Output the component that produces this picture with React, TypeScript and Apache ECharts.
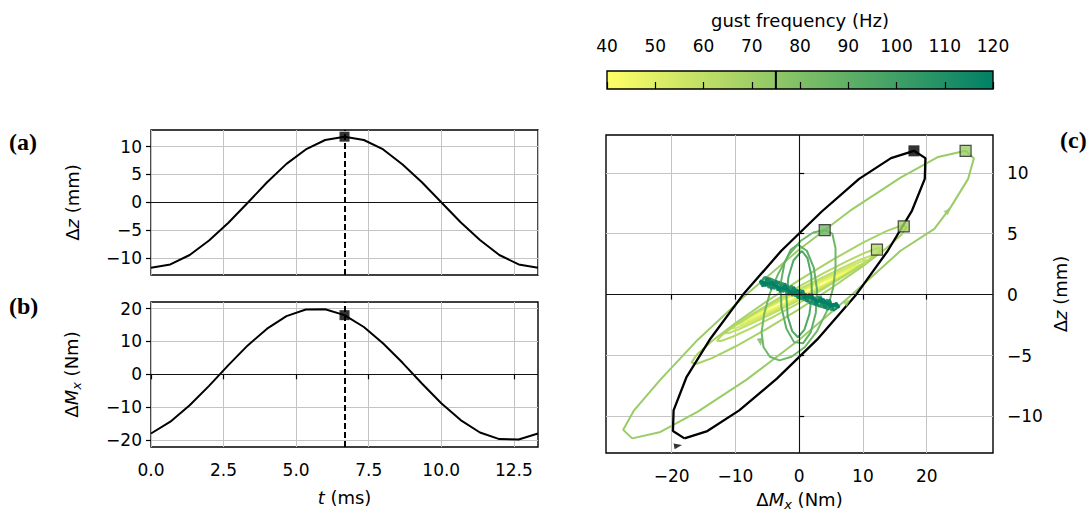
import React, { useEffect, useRef } from 'react';
import * as echarts from 'echarts';

// ---------- time series (panels a, b) ----------
const tMs = [0, 0.667, 1.333, 2.0, 2.667, 3.333, 4.0, 4.667, 5.333, 6.0, 6.667, 7.333, 8.0, 8.667, 9.333, 10.0, 10.667, 11.333, 12.0, 12.667, 13.333];
const dz = [-11.8, -11.2, -9.5, -6.9, -3.7, -0.1, 3.6, 6.9, 9.5, 11.2, 11.8, 11.2, 9.5, 6.8, 3.6, 0.0, -3.6, -6.8, -9.5, -11.2, -11.8];
const dMx = [-18.0, -14.4, -9.4, -3.5, 2.8, 8.8, 13.9, 17.7, 19.7, 19.8, 18.0, 14.4, 9.4, 3.5, -2.8, -8.8, -13.9, -17.7, -19.7, -19.8, -18.0];
const markIndex = 10; // t = T/2
const highlightFreq = 75;

// ---------- tick values ----------
const tTicks = [0, 2.5, 5, 7.5, 10, 12.5];
const dzTicks = [-10, -5, 0, 5, 10];
const mxTicks = [-20, -10, 0, 10, 20];
const cbTicks = [40, 50, 60, 70, 80, 90, 100, 110, 120];

// ---------- phase loops (panel c): [ΔMx, Δz] ----------
const loop40 = [[7.8, 1.90], [7.42, 1.84], [6.31, 1.61], [4.58, 1.22], [2.41, 0.71], [0, 0.13], [-2.41, -0.46], [-4.58, -0.99], [-6.31, -1.43], [-7.42, -1.75], [-7.8, -1.90], [-7.42, -1.84], [-6.31, -1.61], [-4.58, -1.22], [-2.41, -0.71], [0, -0.13], [2.41, 0.46], [4.58, 0.99], [6.31, 1.43], [7.42, 1.75], [7.8, 1.90]];
const loop45 = [[8.6, 2.14], [8.18, 2.09], [6.96, 1.84], [5.06, 1.41], [2.66, 0.84], [0, 0.19], [-2.66, -0.48], [-5.06, -1.09], [-6.96, -1.60], [-8.18, -1.96], [-8.6, -2.14], [-8.18, -2.09], [-6.96, -1.84], [-5.06, -1.41], [-2.66, -0.84], [0, -0.19], [2.66, 0.48], [5.06, 1.09], [6.96, 1.60], [8.18, 1.96], [8.6, 2.14]];
const loop50 = [[9.5, 2.44], [9.04, 2.40], [7.69, 2.12], [5.58, 1.64], [2.94, 1.00], [0, 0.26], [-2.94, -0.51], [-5.58, -1.23], [-7.69, -1.81], [-9.04, -2.24], [-9.5, -2.44], [-9.04, -2.40], [-7.69, -2.12], [-5.58, -1.64], [-2.94, -1.00], [0, -0.26], [2.94, 0.51], [5.58, 1.23], [7.69, 1.81], [9.04, 2.24], [9.5, 2.44]];
const loop55 = [[10.5, 2.78], [9.99, 2.75], [8.49, 2.45], [6.17, 1.91], [3.24, 1.18], [0, 0.34], [-3.24, -0.51], [-6.17, -1.32], [-8.49, -2.03], [-9.99, -2.52], [-10.5, -2.78], [-9.99, -2.75], [-8.49, -2.45], [-6.17, -1.91], [-3.24, -1.18], [0, -0.34], [3.24, 0.51], [6.17, 1.32], [8.49, 2.03], [9.99, 2.52], [10.5, 2.78]];
const loop60 = [[11.6, 3.17], [11.03, 3.15], [9.38, 2.83], [6.82, 2.22], [3.58, 1.40], [0, 0.45], [-3.58, -0.52], [-6.82, -1.46], [-9.38, -2.30], [-11.03, -2.88], [-11.6, -3.17], [-11.03, -3.15], [-9.38, -2.83], [-6.82, -2.22], [-3.58, -1.40], [0, -0.45], [3.58, 0.52], [6.82, 1.46], [9.38, 2.30], [11.03, 2.88], [11.6, 3.17]];
const loop64 = [[12.9, 3.79], [12.27, 3.81], [10.44, 3.46], [7.58, 2.77], [3.99, 1.81], [0, 0.67], [-3.99, -0.53], [-7.58, -1.69], [-10.44, -2.68], [-12.27, -3.40], [-12.9, -3.79], [-12.27, -3.81], [-10.44, -3.46], [-7.58, -2.77], [-3.99, -1.81], [0, -0.67], [3.99, 0.53], [7.58, 1.69], [10.44, 2.68], [12.27, 3.40], [12.9, 3.79]];
const loop68 = [[16.9, 5.58], [16.07, 5.67], [13.67, 5.21], [9.93, 4.24], [5.22, 2.85], [0, 1.19], [-5.22, -0.60], [-9.93, -2.32], [-13.67, -3.81], [-16.07, -4.94], [-16.9, -5.58], [-16.07, -5.67], [-13.67, -5.21], [-9.93, -4.24], [-5.22, -2.85], [0, -1.19], [5.22, 0.60], [9.93, 2.32], [13.67, 3.81], [16.07, 4.94], [16.9, 5.58]];
const loop72 = [[26.1, 11.8], [27.4, 11.2], [26.5, 9.5], [23.8, 7.2], [21.2, 5.4], [15.9, 3.6], [8.3, 0.0], [0.0, -3.7], [-8.3, -7.0], [-15.9, -9.6], [-21.9, -11.3], [-26.2, -11.8], [-27.6, -11.1], [-25.9, -9.5], [-21.8, -7.0], [-15.9, -3.7], [-8.3, 0.0], [0.0, 3.7], [8.3, 7.0], [15.9, 9.6], [21.8, 11.3], [26.1, 11.8]];
const loop85 = [[4.0, 5.3], [5.2, 5.0], [5.7, 3.8], [5.7, 2.2], [5.3, 0.5], [4.3, -1.4], [2.8, -3.0], [0.9, -4.3], [-1.2, -5.1], [-3.1, -5.4], [-4.6, -5.1], [-5.6, -4.3], [-5.9, -3.1], [-5.5, -1.6], [-4.6, 0.1], [-3.3, 1.7], [-1.7, 3.2], [0.2, 4.4], [2.2, 5.1], [4.0, 5.3]];
const loop90 = [[-0.2, 4.1], [1.2, 3.6], [2.3, 2.2], [2.8, 0.4], [2.6, -1.5], [1.8, -3.1], [0.6, -4.0], [-0.8, -3.9], [-2.0, -2.8], [-2.8, -1.0], [-2.9, 0.9], [-2.3, 2.6], [-1.3, 3.7], [-0.2, 4.1]];
const loop95 = [[0.4, 3.6], [1.3, 3.0], [1.9, 1.6], [2.0, 0.0], [1.6, -1.6], [0.8, -2.9], [-0.2, -3.5], [-1.1, -3.0], [-1.8, -1.8], [-2.0, -0.2], [-1.7, 1.4], [-0.9, 2.8], [0.4, 3.6]];
const loop100 = [[-5.4, 1.45], [-4.2, 1.25], [-3.0, 0.95], [-1.8, 0.65], [-0.6, 0.25], [0.6, -0.05], [1.8, -0.35], [3.0, -0.6], [4.2, -0.8], [5.6, -0.95], [4.4, -1.15], [3.2, -0.95], [2.0, -0.75], [0.8, -0.45], [-0.4, -0.15], [-1.6, 0.15], [-2.8, 0.45], [-4.0, 0.8], [-5.4, 1.45]];
const loop105 = [[-6.0, 1.06], [-5.4, 1.46], [-4.8, 0.56], [-4.0, 1.22], [-3.4, 0.32], [-2.6, 0.99], [-2.0, 0.09], [-1.2, 0.75], [-0.6, -0.15], [0.2, 0.42], [0.8, -0.48], [1.6, 0.08], [2.2, -0.82], [3.0, -0.15], [3.6, -1.05], [4.4, -0.39], [5.0, -1.29], [5.8, -0.67], [6.3, -1.01]];
const loop110 = [[-6.2, 1.12], [-5.3, 0.70], [-4.6, 1.35], [-3.9, 0.45], [-3.2, 1.10], [-2.5, 0.20], [-1.8, 0.80], [-1.1, -0.10], [-0.4, 0.45], [0.3, -0.40], [1.0, 0.10], [1.7, -0.75], [2.4, -0.20], [3.1, -1.00], [3.8, -0.50], [4.5, -1.25], [5.3, -0.75], [6.3, -1.05]];
const loop115 = [[-6.2, 1.09], [-5.7, 0.66], [-5.0, 1.39], [-4.4, 0.44], [-3.6, 1.15], [-3.0, 0.20], [-2.2, 0.92], [-1.6, -0.03], [-0.8, 0.63], [-0.2, -0.32], [0.6, 0.35], [1.2, -0.55], [2.0, 0.06], [2.6, -0.89], [3.4, -0.17], [4.0, -1.12], [4.8, -0.41], [5.4, -1.31], [6.2, -0.99]];
const loop120 = [[-6.2, 1.15], [-5.2, 0.75], [-4.2, 1.05], [-3.2, 0.40], [-2.2, 0.70], [-1.2, 0.05], [-0.2, 0.35], [0.8, -0.30], [1.8, 0.00], [2.8, -0.65], [3.8, -0.35], [4.8, -1.00], [5.8, -0.70], [6.3, -1.05], [3.2, -0.55], [0.0, 0.05], [-3.2, 0.60], [-6.2, 1.15]];

const loopFreqs = [40, 45, 50, 55, 60, 64, 68, 72, 85, 90, 95, 100, 105, 110, 115, 120];
const loopData = [loop40, loop45, loop50, loop55, loop60, loop64, loop68, loop72, loop85, loop90, loop95, loop100, loop105, loop110, loop115, loop120];

// squares marking t = T/2 on the larger loops
const squareFreqs = [72, 68, 64, 85];
const squarePts = [[26.1, 11.8], [16.4, 5.6], [12.2, 3.7], [4.0, 5.3]];

// small direction arrows: [ΔMx, Δz], heading angle in degrees (screen, ccw from +x), frequency (0 = black)
const arrowPts = [[-19.0, -12.4], [7.6, -0.6], [-6.1, -3.9], [10.6, 2.8], [23.4, 6.9]];
const arrowHeading = [10, 42, -80, 25, 45];
const arrowFreq = [0, 72, 85, 60, 72];

// ---------- helpers ----------
const FONT = 'DejaVu Sans';
const summerR = (f: number) => {
  const u = Math.min(1, Math.max(0, (f - 40) / 80));
  const r = Math.round(255 * (1 - u));
  const g = Math.round(255 * (1 - 0.5 * u));
  return `rgb(${r},${g},102)`;
};
const fmt = (v: number, d = 0) => {
  const s = Math.abs(v).toFixed(d);
  return v < 0 ? '\u2212' + s : s;
};
const gridLine = { show: true, lineStyle: { color: '#c4c4c4', width: 1 } };
const tick = { show: true, length: 5, lineStyle: { color: '#000', width: 1.2 } };
const labelBase = { fontFamily: FONT, fontSize: 17, color: '#000' };
const nameStyle = {
  fontFamily: FONT, fontSize: 18, color: '#000',
  rich: {
    i: { fontFamily: FONT, fontSize: 18, fontStyle: 'italic', color: '#000' },
    s: { fontFamily: FONT, fontSize: 13, fontStyle: 'italic', color: '#000', verticalAlign: 'bottom', lineHeight: 23 },
  },
};
const frame = { show: true, borderColor: '#000', borderWidth: 1.4, backgroundColor: 'transparent', outerBoundsMode: 'none', containLabel: false };
const tagFont = 'bold 24px "Liberation Serif", serif';

export default function App() {
  const ref = useRef<HTMLDivElement>(null);
  useEffect(() => {
    if (!ref.current) return;
    const chart = echarts.init(ref.current, undefined, { renderer: 'svg' });

    const zeroLine = (data: any[]) => ({
      silent: true, symbol: ['none', 'none'], label: { show: false },
      lineStyle: { color: '#111', width: 1.1, type: 'solid' }, data,
    });
    const dashLine = {
      silent: true, symbol: ['none', 'none'], label: { show: false },
      lineStyle: { color: '#000', width: 2, type: [6, 3] }, data: [{ xAxis: tMs[markIndex] }],
    };

    const series: any[] = [
      // panel a
      { type: 'line', xAxisIndex: 0, yAxisIndex: 0, data: [], markLine: zeroLine([{ yAxis: 0 }]), z: 1 },
      { type: 'line', xAxisIndex: 0, yAxisIndex: 0, data: tMs.map((t, i) => [t, dz[i]]), symbol: 'none',
        lineStyle: { color: '#000', width: 2 }, markLine: dashLine, z: 3 },
      { type: 'scatter', xAxisIndex: 0, yAxisIndex: 0, data: [[tMs[markIndex], dz[markIndex]]], symbol: 'rect',
        symbolSize: 10, itemStyle: { color: '#000' }, z: 5 },
      // panel b
      { type: 'line', xAxisIndex: 1, yAxisIndex: 1, data: [], markLine: zeroLine([{ yAxis: 0 }]), z: 1 },
      { type: 'line', xAxisIndex: 1, yAxisIndex: 1, data: tMs.map((t, i) => [t, dMx[i]]), symbol: 'none',
        lineStyle: { color: '#000', width: 2 }, markLine: dashLine, z: 3 },
      { type: 'scatter', xAxisIndex: 1, yAxisIndex: 1, data: [[tMs[markIndex], dMx[markIndex]]], symbol: 'rect',
        symbolSize: 10, itemStyle: { color: '#000' }, z: 5 },
      // panel c zero lines
      { type: 'line', xAxisIndex: 2, yAxisIndex: 2, data: [], markLine: zeroLine([{ yAxis: 0 }, { xAxis: 0 }]), z: 1 },
    ];
    loopData.forEach((pts, k) => {
      series.push({
        type: 'line', xAxisIndex: 2, yAxisIndex: 2, data: pts, symbol: 'none', clip: true,
        lineStyle: { color: summerR(loopFreqs[k]), width: loopFreqs[k] >= 100 ? 2.2 : 2 }, z: 2,
      });
    });
    series.push({
      type: 'line', xAxisIndex: 2, yAxisIndex: 2, data: tMs.map((_, i) => [dMx[i], dz[i]]), symbol: 'none',
      lineStyle: { color: '#000', width: 2.3 }, z: 3,
    });
    series.push({
      type: 'scatter', xAxisIndex: 2, yAxisIndex: 2, symbol: 'triangle', symbolSize: [6, 8], z: 3,
      data: arrowPts.map((p, k) => ({
        value: p, symbolRotate: arrowHeading[k] - 90,
        itemStyle: { color: arrowFreq[k] === 0 ? '#000' : summerR(arrowFreq[k]) },
      })),
    });
    series.push({
      type: 'scatter', xAxisIndex: 2, yAxisIndex: 2, symbol: 'rect', symbolSize: 11, z: 4,
      data: squarePts.map((p, k) => ({ value: p, itemStyle: { color: summerR(squareFreqs[k]), borderColor: '#222', borderWidth: 1.2 } })),
    });
    series.push({
      type: 'scatter', xAxisIndex: 2, yAxisIndex: 2, symbol: 'rect', symbolSize: 11, z: 5,
      data: [[dMx[markIndex], dz[markIndex]]], itemStyle: { color: '#000' },
    });
    // colorbar highlight
    series.push({
      type: 'line', xAxisIndex: 3, yAxisIndex: 3, data: [[highlightFreq, 0], [highlightFreq, 1]], symbol: 'none',
      lineStyle: { color: '#000', width: 2 }, z: 3,
    });

    const option: any = {
      animation: false,
      backgroundColor: '#fff',
      grid: [
        { left: 151, top: 130, width: 387, height: 145, ...frame },
        { left: 151, top: 302, width: 387, height: 145, ...frame },
        { left: 606, top: 135, width: 387, height: 318, ...frame },
        {
          left: 607, top: 71, width: 386, height: 18, show: true, borderColor: '#000', borderWidth: 1.4,
          outerBoundsMode: 'none', containLabel: false,
          backgroundColor: new echarts.graphic.LinearGradient(0, 0, 1, 0, [
            { offset: 0, color: summerR(40) }, { offset: 1, color: summerR(120) },
          ]),
        },
      ],
      xAxis: [
        { gridIndex: 0, type: 'value', min: 0, max: 13.333, interval: 2.5, axisLine: { show: false },
          axisTick: { show: false }, axisLabel: { show: false }, splitLine: gridLine },
        { gridIndex: 1, type: 'value', min: 0, max: 13.333, interval: 2.5, axisLine: { show: false },
          axisTick: { ...tick, customValues: tTicks },
          axisLabel: { ...labelBase, margin: 14, customValues: tTicks, formatter: (v: number) => v.toFixed(1) },
          splitLine: gridLine,
          name: '{i|t} (ms)', nameLocation: 'middle', nameGap: 41, nameTextStyle: nameStyle },
        { gridIndex: 2, type: 'value', min: -30.3, max: 30.4, splitNumber: 5, axisLine: { show: false },
          axisTick: { ...tick, customValues: mxTicks },
          axisLabel: { ...labelBase, margin: 14, customValues: mxTicks, formatter: (v: number) => fmt(v) },
          splitLine: gridLine,
          name: 'Δ{i|M}{s|x} (Nm)', nameLocation: 'middle', nameGap: 35, nameTextStyle: nameStyle },
        { gridIndex: 3, type: 'value', position: 'top', min: 40, max: 120, interval: 10, axisLine: { show: false },
          axisTick: { show: true, length: 7, lineStyle: { color: '#000', width: 1.2 }, customValues: cbTicks },
          axisLabel: { ...labelBase, margin: 17, customValues: cbTicks, formatter: (v: number) => String(v) },
          splitLine: { show: false },
          name: 'gust frequency (Hz)', nameLocation: 'middle', nameGap: 42, nameTextStyle: nameStyle },
      ],
      yAxis: [
        { gridIndex: 0, type: 'value', min: -13.1, max: 13.0, splitNumber: 5, axisLine: { show: false },
          axisTick: { ...tick, customValues: dzTicks },
          axisLabel: { ...labelBase, margin: 9, customValues: dzTicks, formatter: (v: number) => fmt(v) },
          splitLine: gridLine,
          name: 'Δ{i|z} (mm)', nameLocation: 'middle', nameRotate: 90, nameGap: 70, nameTextStyle: nameStyle },
        { gridIndex: 1, type: 'value', min: -22.1, max: 22.0, splitNumber: 5, axisLine: { show: false },
          axisTick: { ...tick, customValues: mxTicks },
          axisLabel: { ...labelBase, margin: 9, customValues: mxTicks, formatter: (v: number) => fmt(v) },
          splitLine: gridLine,
          name: 'Δ{i|M}{s|x} (Nm)', nameLocation: 'middle', nameRotate: 90, nameGap: 68, nameTextStyle: nameStyle },
        { gridIndex: 2, type: 'value', position: 'right', min: -13.0, max: 13.1, splitNumber: 5, axisLine: { show: false },
          axisTick: { ...tick, customValues: dzTicks },
          axisLabel: { ...labelBase, margin: 14, customValues: dzTicks, formatter: (v: number) => fmt(v) },
          splitLine: gridLine,
          name: 'Δ{i|z} (mm)', nameLocation: 'middle', nameRotate: 90, nameGap: 58, nameTextStyle: nameStyle },
        { gridIndex: 3, type: 'value', min: 0, max: 1, show: false },
      ],
      graphic: [
        { type: 'text', left: 9, top: 130, style: { text: '(a)', font: tagFont, fill: '#000' } },
        { type: 'text', left: 9, top: 294, style: { text: '(b)', font: tagFont, fill: '#000' } },
        { type: 'text', left: 1060, top: 128, style: { text: '(c)', font: tagFont, fill: '#000' } },
      ],
      series,
    };
    chart.setOption(option);
    return () => chart.dispose();
  }, []);
  return <div ref={ref} style={{ position: 'fixed', left: 0, top: 0, width: 1091, height: 513, background: '#fff' }} />;
}
